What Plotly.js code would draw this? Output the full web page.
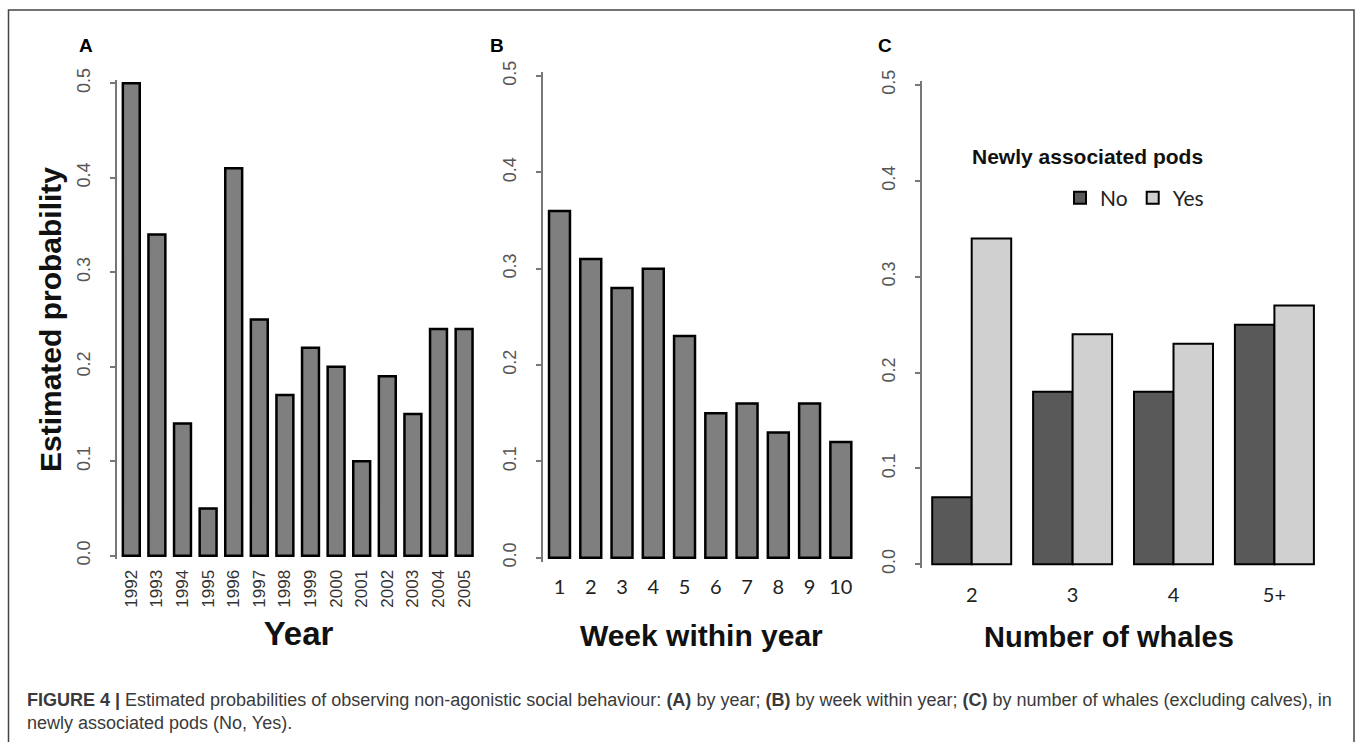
<!DOCTYPE html>
<html>
<head>
<meta charset="utf-8">
<script src="https://cdn.plot.ly/plotly-3.0.1.min.js"></script>
<style>html,body{margin:0;padding:0;background:#fff;}#chart{width:1357px;height:742px;}</style>
</head>
<body>
<div id="chart"></div>
<script>
// ---- data ----
const years = ['1992','1993','1994','1995','1996','1997','1998','1999','2000','2001','2002','2003','2004','2005'];
const probYear = [0.50,0.34,0.14,0.05,0.41,0.25,0.17,0.22,0.20,0.10,0.19,0.15,0.24,0.24];
const weeks = ['1','2','3','4','5','6','7','8','9','10'];
const probWeek = [0.36,0.31,0.28,0.30,0.23,0.15,0.16,0.13,0.16,0.12];
const whaleGroups = ['2','3','4','5+'];
const probNo = [0.07,0.18,0.18,0.25];
const probYes = [0.34,0.24,0.23,0.27];
const yTickVals = [0,0.1,0.2,0.3,0.4,0.5];
const yTickText = ['0.0','0.1','0.2','0.3','0.4','0.5'];

// ---- layout helpers (pixel geometry) ----
const W = 1357, H = 742;
const LO = -0.004, HI = 0.504;
function ydom(p0, p5){
  const s = (p0 - p5) / 0.5;
  const bot = p0 - LO * s, top = p5 - (HI - 0.5) * s;
  return [1 - bot / H, 1 - top / H];
}
function xgeom(L, R, c0, pitch){
  return {domain:[L / W, R / W], range:[(L - c0) / pitch, (R - c0) / pitch]};
}
const gA = xgeom(117, 480, 131.3, 25.6);
const gB = xgeom(542.7, 860, 559.5, 31.26);
const gC = xgeom(921.7, 1340, 971.7, 100.9);

const sans = 'Liberation Sans, Arial, sans-serif';
const cal = 'Lato, Carlito, sans-serif';

function yax(dom, anchor, title){
  const a = {
    domain: dom, range:[LO, HI], anchor: anchor,
    showline: true, linecolor:'#777', linewidth:2,
    ticks:'outside', ticklen:5, tickwidth:2, tickcolor:'#777',
    tickvals: yTickVals, ticktext: yTickText, tickangle:-90,
    tickfont:{family:sans, size:18, color:'#555'},
    ticklabelstandoff: 13,
    showgrid:false, zeroline:false, fixedrange:true
  };
  if (title) a.title = title;
  return a;
}
function xax(g, anchor, tickfont, tickangle, standoff, title){
  const a = {
    domain: g.domain, range: g.range, anchor: anchor, type:'category',
    showline:false, ticks:'', showgrid:false, zeroline:false,
    tickfont: tickfont, tickangle: tickangle, ticklabelstandoff: standoff,
    fixedrange:true
  };
  if (title) a.title = title;
  return a;
}

const lineBlack = {color:'#000', width:2.5};
const traces = [
  {type:'bar', x: years, y: probYear, xaxis:'x', yaxis:'y', width:0.66,
   marker:{color:'#7f7f7f', line:lineBlack}, showlegend:false, hoverinfo:'x+y'},
  {type:'bar', x: weeks, y: probWeek, xaxis:'x2', yaxis:'y2', width:0.67,
   marker:{color:'#7f7f7f', line:lineBlack}, showlegend:false, hoverinfo:'x+y'},
  {type:'bar', name:'No', x: whaleGroups, y: probNo, xaxis:'x3', yaxis:'y3',
   marker:{color:'#595959', line:{color:'#000', width:2}}},
  {type:'bar', name:'Yes', x: whaleGroups, y: probYes, xaxis:'x3', yaxis:'y3',
   marker:{color:'#d0d0d0', line:{color:'#000', width:2}}}
];

const capFont = {family:sans, size:18, color:'#3a3a3a'};
const layout = {
  width: W, height: H,
  margin:{l:0, r:0, t:0, b:0},
  paper_bgcolor:'#fff', plot_bgcolor:'rgba(0,0,0,0)',
  barmode:'group', bargap:0.217, bargroupgap:0,
  showlegend:true,
  legend:{
    orientation:'h', x:1060/W, xanchor:'left', y:1-198/H, yanchor:'middle',
    bgcolor:'rgba(255,255,255,0)',
    font:{family:cal, size:21, color:'#222'},
    itemwidth:30, traceorder:'normal'
  },
  xaxis: xax(gA, 'y', {family:sans, size:17, color:'#333'}, -90, 6,
             {text:'<b>Year</b>', font:{family:sans, size:33, color:'#111'}, standoff:15}),
  yaxis: yax(ydom(555.7, 83.3), 'x',
             {text:'<b>Estimated probability</b>', font:{family:sans, size:30, color:'#111'}, standoff:3}),
  xaxis2: xax(gB, 'y2', {family:cal, size:20, color:'#222'}, 0, 11,
             {text:'<b>Week within year</b>', font:{family:sans, size:30, color:'#111'}, standoff:28}),
  yaxis2: yax(ydom(557.7, 76), 'x2'),
  xaxis3: xax(gC, 'y3', {family:cal, size:20, color:'#222'}, 0, 13),
  yaxis3: yax(ydom(564.3, 85), 'x3'),
  shapes:[
    {type:'rect', xref:'paper', yref:'paper', x0:8.5/W, x1:1354/W, y0:-0.05, y1:1-10/H,
     line:{color:'#444', width:1.5}, fillcolor:'rgba(0,0,0,0)', layer:'above'}
  ],
  annotations:[
    {text:'<b>Number of whales</b>', x:1109/W, y:1-637/H, xref:'paper', yref:'paper', showarrow:false,
     xanchor:'center', yanchor:'middle', font:{family:sans, size:29, color:'#111'}},
    {text:'<b>Newly associated pods</b>', x:1087/W, y:1-157/H, xref:'paper', yref:'paper', showarrow:false,
     xanchor:'center', yanchor:'middle', font:{family:sans, size:21, color:'#111'}},
    {text:'<b>A</b>', x:86/W, y:1-45/H, xref:'paper', yref:'paper', showarrow:false,
     xanchor:'center', yanchor:'middle', font:{family:sans, size:19, color:'#000'}},
    {text:'<b>B</b>', x:497/W, y:1-45/H, xref:'paper', yref:'paper', showarrow:false,
     xanchor:'center', yanchor:'middle', font:{family:sans, size:19, color:'#000'}},
    {text:'<b>C</b>', x:885/W, y:1-45/H, xref:'paper', yref:'paper', showarrow:false,
     xanchor:'center', yanchor:'middle', font:{family:sans, size:19, color:'#000'}},
    {text:'<b>FIGURE 4 |</b> Estimated probabilities of observing non-agonistic social behaviour: <b>(A)</b> by year; <b>(B)</b> by week within year; <b>(C)</b> by number of whales (excluding calves), in',
     x:25/W, y:1-700/H, xref:'paper', yref:'paper', showarrow:false, xanchor:'left', yanchor:'middle',
     align:'left', font:capFont},
    {text:'newly associated pods (No, Yes).',
     x:25/W, y:1-723/H, xref:'paper', yref:'paper', showarrow:false, xanchor:'left', yanchor:'middle',
     align:'left', font:capFont}
  ]
};

Plotly.newPlot('chart', traces, layout, {displayModeBar:false, staticPlot:true});
</script>
</body>
</html>
